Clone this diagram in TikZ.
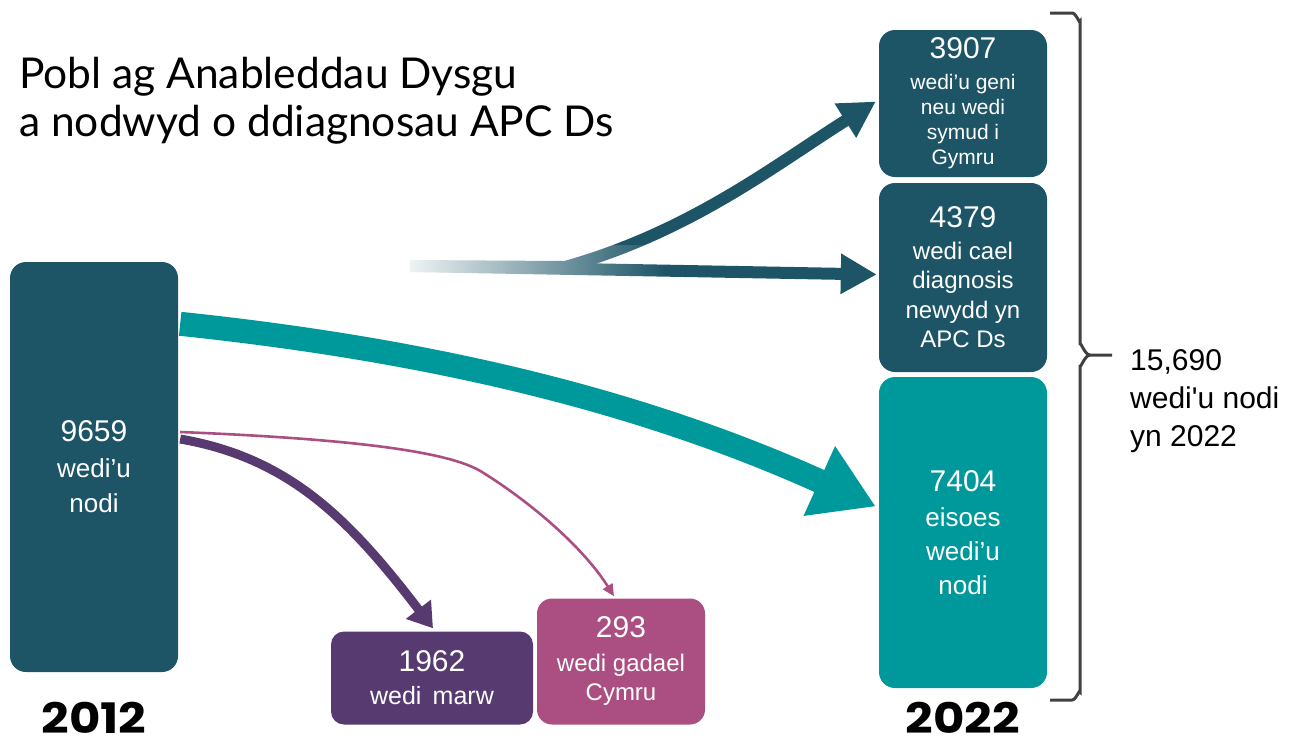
\documentclass[tikz,border=0pt]{standalone}
\usepackage{fontspec}
\setmainfont{Liberation Sans}
\newfontfamily\titlefont{Lato}
\newfontfamily\yearfont{Poppins}
\usetikzlibrary{arrows.meta,calc,fadings}
\definecolor{deepteal}{HTML}{1D5567}
\definecolor{brightteal}{HTML}{00999B}
\definecolor{plum}{HTML}{573A70}
\definecolor{rose}{HTML}{AB4F82}
\definecolor{bracegray}{HTML}{404040}
\tikzfading[name=faderight, left color=transparent!4, right color=transparent!100]
\newcommand{\bignum}[1]{{\fontsize{30}{30}\selectfont #1}}
\begin{document}
\begin{tikzpicture}[x=1pt,y=-1pt,
  box/.style={rounded corners=16pt, text=white, align=center, inner sep=0pt},
  tallbox/.style={box, minimum width=168pt},
  flowteal/.style={draw=brightteal, line width=24pt, -{Triangle[length=62pt,width=72pt]}},
  flowdeep/.style={draw=deepteal, line width=12pt, -{Triangle[length=36pt,width=38pt]}},
  flowplum/.style={draw=plum, line width=9pt, -{Triangle[length=24pt,width=30pt]}},
  flowrose/.style={draw=rose, line width=2.6pt, -{Triangle[length=12pt,width=11pt]}},
  yearlabel/.style={font=\yearfont\bfseries\fontsize{42}{42}\selectfont, inner sep=0pt, anchor=base, xscale=1.15},
  bracestyle/.style={draw=bracegray, line width=3pt}]
\useasboundingbox (0,0) rectangle (1298,740);

% title
\node[anchor=north west, font=\titlefont\fontsize{42.5}{48}\selectfont, align=left, inner sep=0pt]
  (title) at (19,57) {Pobl ag Anableddau Dysgu\\a nodwyd o ddiagnosau APC Ds};

% 2012 column
\node[tallbox, fill=deepteal, minimum height=410pt, font=\fontsize{26}{35}\selectfont] (y12) at (94,467)
  {\bignum{9659}\\[1pt]wedi’u\\nodi};
\node[yearlabel] (yr12) at (94,733) {2012};

% outflows
\node[box, fill=plum, minimum width=202pt, minimum height=93pt, rounded corners=13pt,
  font=\fontsize{25}{30}\selectfont] (dead) at (432,678)
  {\bignum{1962}\\[3pt]wedi\hspace{0.45em}marw};
\node[box, fill=rose, minimum width=168pt, minimum height=126pt, rounded corners=15pt,
  font=\fontsize{24}{29}\selectfont] (left) at (621,661.5)
  {\bignum{293}\\[5pt]wedi gadael\\Cymru};

% 2022 column
\node[tallbox, fill=deepteal, minimum height=147pt, font=\fontsize{21}{25}\selectfont] (born) at (963,103.5)
  {\bignum{3907}\\[6pt]wedi’u geni\\neu wedi\\symud i\\Gymru};
\node[tallbox, fill=deepteal, minimum height=189pt, font=\fontsize{24}{29.5}\selectfont] (newdx) at (963,277.5)
  {\bignum{4379}\\[2pt]wedi cael\\diagnosis\\newydd yn\\APC Ds};
\node[tallbox, fill=brightteal, minimum height=311pt, font=\fontsize{26}{34}\selectfont] (ex) at (963,532.5)
  {\bignum{7404}\\[1pt]eisoes\\wedi’u\\nodi};
\node[yearlabel] (yr22) at (963,733) {2022};

% flows from 2012
\draw[flowteal] ($(y12.north east)+(2,62)$) .. controls (430,350) and (640,400) .. ($(ex.west)+(-3,-26)$);
\draw[flowplum] ($(y12.east)+(2,-28)$) .. controls (290,458) and (350,520) .. ($(dead.north)+(1,-3)$);
\draw[flowrose] ($(y12.east)+(2,-35)$) .. controls (380,440) and (455,455) .. (482,472)
  .. controls (535,505) and (585,550) .. ($(left.north)+(-7,-2)$);

% inflows, fading in from the left
\coordinate (src) at (410,266);
\draw[flowdeep] (src) -- ($(newdx.west)+(-2,-3)$);
\draw[flowdeep] (src) -- (565,267) .. controls (690,232) and (775,165) .. ($(born.west)+(-3,-2)$);
\fill[white, path fading=faderight] (402,245) rectangle (665,292);

% brace with total
\draw[bracestyle] (1050,13) -- (1072,13) to[out=0,in=-90] (1080,21) -- (1080,345)
  to[out=90,in=180] (1090,355) -- (1112,355);
\draw[bracestyle] (1090,355) to[out=180,in=-90] (1080,365) -- (1080,692)
  to[out=90,in=0] (1072,700) -- (1050,700);
\node[anchor=west, align=left, inner sep=0pt, font=\fontsize{30}{38}\selectfont] (total) at (1130,401)
  {15,690\\wedi\textquotesingle u nodi\\yn 2022};
\end{tikzpicture}
\end{document}
